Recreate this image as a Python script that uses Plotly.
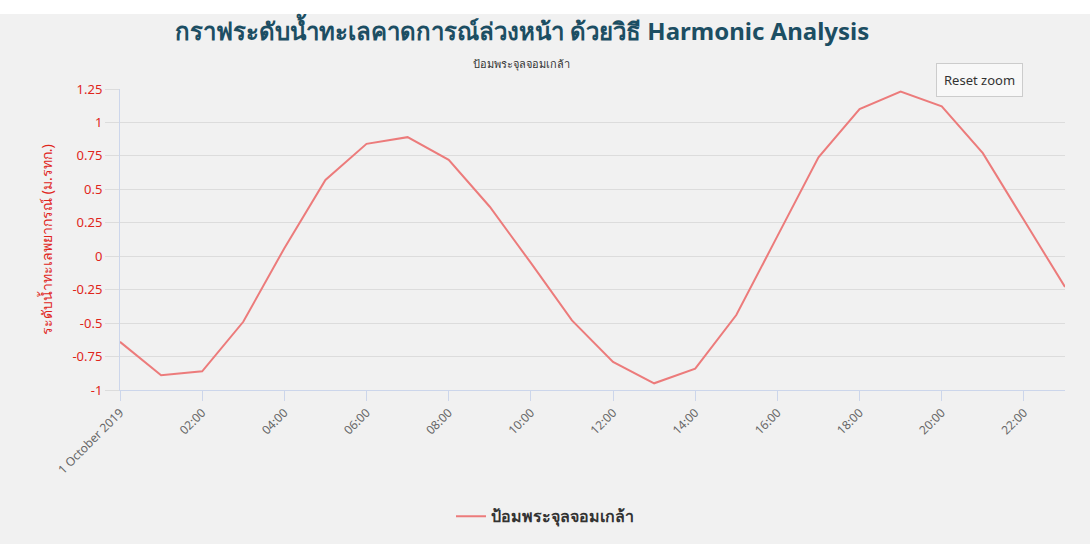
import plotly.graph_objects as go

hours = [f"2019-10-01 {h:02d}:00" for h in range(24)]
levels = [-0.64, -0.89, -0.86, -0.49, 0.06, 0.57, 0.84, 0.89, 0.72, 0.37, -0.05, -0.48,
          -0.79, -0.95, -0.84, -0.44, 0.15, 0.74, 1.10, 1.23, 1.12, 0.77, 0.27, -0.23]
series_name = "ป้อมพระจุลจอมเกล้า"
tick_vals = [f"2019-10-01 {h:02d}:00" for h in range(0, 24, 2)]
tick_text = ["1 October 2019"] + [f"{h:02d}:00" for h in range(2, 24, 2)]
y_ticks = [-1, -0.75, -0.5, -0.25, 0, 0.25, 0.5, 0.75, 1, 1.25]
y_ticktext = ["-1", "-0.75", "-0.5", "-0.25", "0", "0.25", "0.5", "0.75", "1", "1.25"]

fig = go.Figure()
fig.add_trace(go.Scatter(
    x=hours, y=levels, mode="lines", name=series_name,
    line=dict(color="#ec7b7b", width=2),
))

fig.update_layout(
    width=1090, height=544,
    paper_bgcolor="#f1f1f1", plot_bgcolor="#f1f1f1",
    margin=dict(l=120, r=25, t=89, b=154, autoexpand=False),
    font=dict(family="Noto Sans, DejaVu Sans, sans-serif"),
    title=dict(
        text="กราฟระดับน้ำทะเลคาดการณ์ล่วงหน้า ด้วยวิธี Harmonic Analysis",
        x=0.479, xanchor="center", y=0.941, yanchor="middle",
        font=dict(size=24, color="#1c4e63", family="Noto Sans, DejaVu Sans, sans-serif", weight="bold"),
    ),
    showlegend=True,
    legend=dict(orientation="h", xref="container", yref="container", x=0.5, xanchor="center",
                y=0.051, yanchor="middle", bgcolor="rgba(0,0,0,0)",
                font=dict(size=16, color="#333333", weight="bold")),
    xaxis=dict(
        range=[hours[0], hours[-1]],
        tickvals=tick_vals, ticktext=tick_text, tickangle=-45,
        tickfont=dict(size=12, color="#666666"),
        showgrid=False, showline=True, linecolor="#ccd6eb", linewidth=1,
        ticks="outside", tickcolor="#ccd6eb", ticklen=10, zeroline=False,
        automargin=False,
    ),
    yaxis=dict(
        range=[-1, 1.25], tickvals=y_ticks, ticktext=y_ticktext,
        tickfont=dict(size=13, color="#e0251b"),
        showgrid=True, gridcolor="#dcdcdc", gridwidth=1,
        showline=True, linecolor="#ccd6eb", linewidth=1,
        ticks="outside", tickcolor="#dcdcdc", ticklen=14, zeroline=False,
        automargin=False,
        title=dict(text="ระดับน้ำทะเลพยากรณ์ (ม.รทก.)", font=dict(size=14, color="#e0251b"), standoff=16),
    ),
    annotations=[
        dict(text="ป้อมพระจุลจอมเกล้า", xref="paper", yref="paper", x=0.425, y=1.085,
             xanchor="center", yanchor="middle", showarrow=False,
             font=dict(size=11, color="#333333")),
        dict(text="Reset zoom", xref="paper", yref="paper", x=0.909, y=1.03,
             xanchor="center", yanchor="middle", showarrow=False,
             font=dict(size=13, color="#333333"), bgcolor="#f8f8f8",
             bordercolor="#cccccc", borderwidth=1, borderpad=7),
    ],
    shapes=[dict(type="rect", xref="paper", yref="paper", x0=-0.2, x1=1.1, y0=1.249, y1=1.4,
                 fillcolor="white", line=dict(width=0), layer="below")],
)

fig.write_html("out.html", config={"displayModeBar": False},
               post_script="document.body.style.margin='0';")
